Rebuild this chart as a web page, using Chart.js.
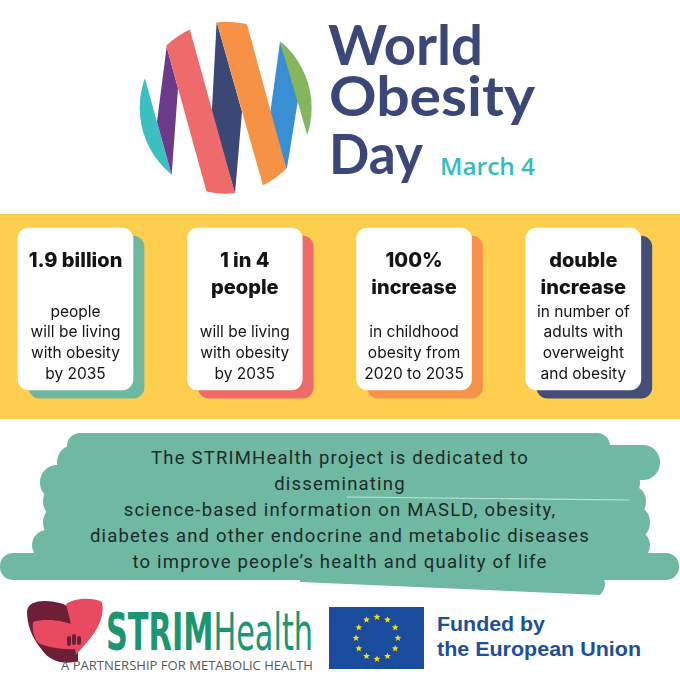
<!DOCTYPE html>
<html>
<head>
<meta charset="utf-8">
<title>World Obesity Day</title>
<script src="https://cdn.jsdelivr.net/npm/chart.js@4.4.1/dist/chart.umd.min.js"></script>
<style>
  html, body { margin: 0; padding: 0; background: #fff; }
  #page { position: relative; width: 680px; height: 680px; overflow: hidden; background: #fff; }
  #art { position: absolute; left: 0; top: 0; }
  #band { position: absolute; left: 0; top: 214px; width: 680px; height: 205px; background: #fecf4e; }
  #cards { position: absolute; left: 0; top: 214px; width: 680px; height: 205px; }
</style>
</head>
<body>
<div id="page">
  <svg id="art" width="680" height="680" viewBox="0 0 680 680">
    <defs>
      <clipPath id="disc"><circle cx="272" cy="278" r="258"/></clipPath>
    </defs>
    <!-- logo stripes, drawn in 3x units -->
    <g transform="translate(135,15) scale(0.3333)" clip-path="url(#disc)">
      <polygon fill="#3bbfc1" points="-20,100 5,100 143,600 -20,600"/>
      <polygon fill="#6b3a8b" points="95,95 129,220 110,480 66,320"/>
      <polygon fill="#3b4774" points="245,20 321,290 300,535 230,300"/>
      <polygon fill="#3a8ed3" points="435,80 490,250 455,465 405,300"/>
      <polygon fill="#85b55c" points="406,-20 700,-20 700,700 616,700"/>
      <polygon fill="#ef6b6b" points="63,-20 147,-20 318,600 234,600"/>
      <polygon fill="#f79146" points="234,-20 323,-20 492,600 409,600"/>
    </g>
    <g fill="#3b4776" font-family="Lato, 'Open Sans', sans-serif" font-weight="700" font-size="55">
      <text x="328" y="65" textLength="155" lengthAdjust="spacingAndGlyphs">World</text>
      <text x="329" y="116" textLength="206" lengthAdjust="spacingAndGlyphs">Obesity</text>
      <text x="329" y="174" textLength="94" lengthAdjust="spacingAndGlyphs">Day</text>
    </g>
    <text x="440" y="175" fill="#35bdbd" font-family="'Open Sans', Lato, sans-serif" font-weight="600" font-size="24" textLength="95" lengthAdjust="spacingAndGlyphs">March 4</text>

    <!-- brush strokes behind the project text -->
    <g fill="#6fb9a2">
      <rect x="67" y="433" width="543" height="27" rx="13"/>
      <rect x="57" y="445" width="603" height="35" rx="17"/>
      <rect x="40" y="465" width="600" height="35" rx="17"/>
      <rect x="43" y="485" width="603" height="33" rx="16"/>
      <rect x="43" y="505" width="607" height="35" rx="17"/>
      <rect x="32" y="530" width="618" height="30" rx="15"/>
      <rect x="0" y="553" width="679" height="27" rx="13"/>
      <path d="M300,566 L600,574 Q610,584 600,595 L300,582 Z"/>
    </g>
    <path d="M347,497 L629,500" stroke="#ffffff" stroke-opacity="0.6" stroke-width="1.2"/>
    <g id="blurb" fill="#1e2a28" font-family="Roboto, 'Open Sans', sans-serif" font-size="18.5" letter-spacing="1.2" text-anchor="middle"></g>

    <!-- partner logo -->
    <path fill="#6e1f38" d="M27,612 C27,600 45,599 60,603 C70,606 78,612 78,625 L78,661 C65,665 50,662 42,650 C32,638 27,625 27,612 Z"/>
    <path fill="#e84a5f" d="M66,604 C75,598 92,597 102,602 C105,615 98,630 88,641 L76,655 L70,620 Z"/>
    <path fill="#e84a5f" d="M33,622 C45,618 65,620 80,628 C88,634 88,645 80,648 C68,651 52,648 40,644 C34,640 32,630 33,622 Z"/>
    <g fill="#6e1f38">
      <rect x="67" y="636" width="4" height="10" rx="2"/>
      <rect x="72" y="634" width="4" height="11" rx="2"/>
      <rect x="77" y="636" width="4" height="9" rx="2"/>
    </g>
    <text x="106" y="650" fill="#1b9670" font-family="'Liberation Sans Narrow', 'DejaVu Sans Condensed', sans-serif" font-size="51" textLength="207" lengthAdjust="spacingAndGlyphs"><tspan font-weight="700">STRIM</tspan><tspan font-weight="400">Health</tspan></text>
    <text x="61" y="670" fill="#585858" font-family="'Open Sans', Lato, sans-serif" font-size="13.5" textLength="252" lengthAdjust="spacingAndGlyphs">A PARTNERSHIP FOR METABOLIC HEALTH</text>

    <!-- EU flag -->
    <rect x="329" y="607" width="95" height="62" fill="#1a4c9e"/>
    <g id="stars" fill="#ffdd00"></g>
    <g fill="#1d4f9c" font-family="'Liberation Sans', Arial, sans-serif" font-weight="700" font-size="20">
      <text x="437" y="631" textLength="108" lengthAdjust="spacingAndGlyphs">Funded by</text>
      <text x="437" y="656" textLength="204" lengthAdjust="spacingAndGlyphs">the European Union</text>
    </g>
  </svg>
  <div id="band"></div>
  <div id="cards"><canvas id="chart"></canvas></div>
</div>

<script>
// card texts
const headlines = [["1.9 billion"], ["1 in 4", "people"], ["100%", "increase"], ["double", "increase"]];
const details = [
    ["people", "will be living", "with obesity", "by 2035"],
    ["will be living", "with obesity", "by 2035"],
    ["in childhood", "obesity from", "2020 to 2035"],
    ["in number of", "adults with", "overweight", "and obesity"],
];
// each card fills its slot from 0 to 1
const cardSpan = [0, 1];
const shadowColours = ["#6cb8a0", "#ee6b68", "#f7924b", "#454e78"];

const blurb = [
    "The STRIMHealth project is dedicated to",
    "disseminating",
    "science-based information on MASLD, obesity,",
    "diabetes and other endocrine and metabolic diseases",
    "to improve people\u2019s health and quality of life",
];

// project text
const NS = "http://www.w3.org/2000/svg";
const blurbGroup = document.getElementById("blurb");
blurb.forEach(function (line, i) {
    const t = document.createElementNS(NS, "text");
    t.setAttribute("x", 340);
    t.setAttribute("y", 464 + i * 26);
    t.textContent = line;
    blurbGroup.appendChild(t);
});

// eu stars
const starGroup = document.getElementById("stars");
for (let i = 0; i < 12; i++) {
    const a = (i / 12) * Math.PI * 2;
    const cx = 377 + 21 * Math.sin(a), cy = 638 - 21 * Math.cos(a);
    let pts = [];
    for (let k = 0; k < 10; k++) {
        const r = k % 2 ? 1.5 : 3.6;
        const b = (k / 10) * Math.PI * 2;
        pts.push((cx + r * Math.sin(b)).toFixed(2) + "," + (cy - r * Math.cos(b)).toFixed(2));
    }
    const p = document.createElementNS(NS, "polygon");
    p.setAttribute("points", pts.join(" "));
    starGroup.appendChild(p);
}

// shadow sits a little right and below each card
const shadowShift = { x: 0.065, y: -0.05 };
const cards = headlines.map((h, i) => ({ x: i, y: cardSpan.slice() }));
const shadows = cards.map((c) => ({ x: c.x + shadowShift.x, y: c.y.map((v) => v + shadowShift.y) }));

const cardText = {
    id: "cardText",
    afterDatasetsDraw(chart) {
        const ctx = chart.ctx;
        chart.getDatasetMeta(0).data.forEach(function (bar, i) {
            const p = bar.getProps(["x", "y", "base"], true);
            const top = Math.min(p.y, p.base);
            const bottom = Math.max(p.y, p.base);
            ctx.save();
            ctx.fillStyle = "#141414";
            ctx.textAlign = "center";
            ctx.textBaseline = "middle";
            ctx.font = "800 20px Inter, 'DejaVu Sans', sans-serif";
            headlines[i].forEach((line, k) => ctx.fillText(line, p.x, top + 33 + k * 27));
            ctx.font = "400 15.5px Inter, 'DejaVu Sans', sans-serif";
            const lines = details[i];
            lines.forEach((line, k) => ctx.fillText(line, p.x, bottom - 16 - (lines.length - 1 - k) * 20.7));
            ctx.restore();
        });
    },
};

new Chart(document.getElementById("chart"), {
    type: "bar",
    data: {
        datasets: [
            {
                label: "card",
                data: cards,
                backgroundColor: "#ffffff",
                order: 0,
            },
            {
                label: "shadow",
                data: shadows,
                backgroundColor: shadowColours,
                order: 1,
            },
        ],
    },
    options: {
        responsive: true,
        maintainAspectRatio: false,
        animation: false,
        events: [],
        layout: { padding: 0 },
        datasets: {
            bar: {
                grouped: false,
                barThickness: 115,
                borderRadius: 11,
                borderSkipped: false,
            },
        },
        scales: {
            x: { type: "linear", offset: false, min: -0.446, max: 3.571, display: false },
            y: { min: -0.179, max: 1.0864, display: false },
        },
        plugins: {
            legend: { display: false },
            tooltip: { enabled: false },
        },
    },
    plugins: [cardText],
});
</script>
</body>
</html>
